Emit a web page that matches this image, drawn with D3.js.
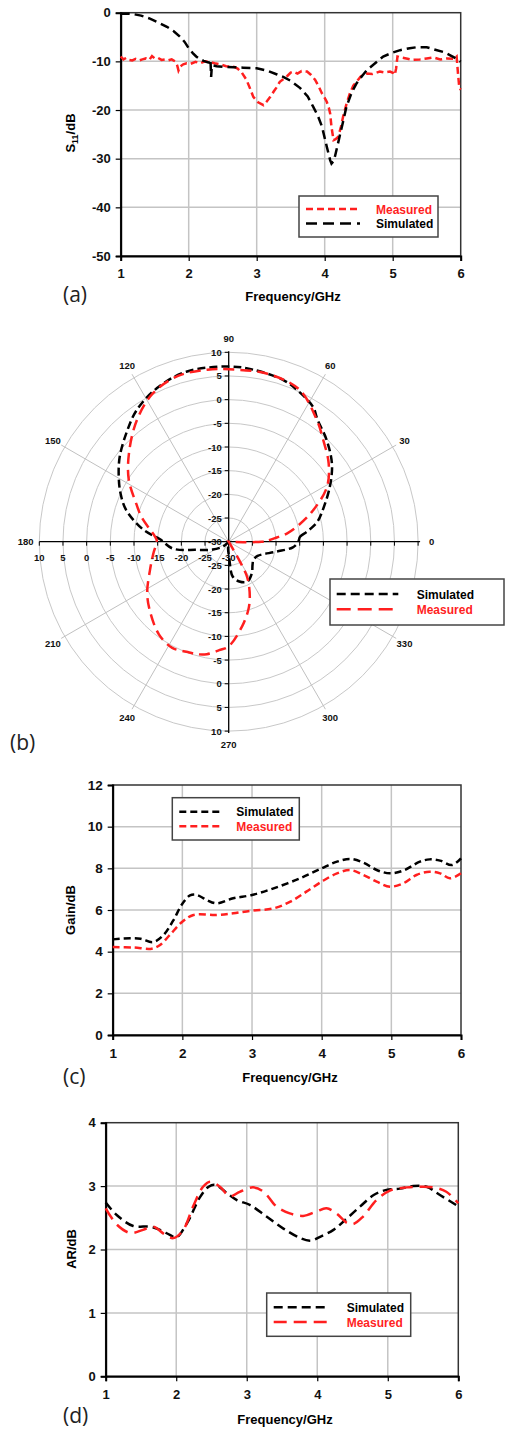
<!DOCTYPE html>
<html><head><meta charset="utf-8">
<script src="https://cdn.jsdelivr.net/npm/d3@7"></script>
<style>
body{margin:0;background:#fff;}
svg{display:block;font-family:"Liberation Sans",Arial,sans-serif;}
.tick text{font-weight:bold;fill:#111;}
</style></head>
<body>
<svg id="c" width="505" height="1431"></svg>
<script>
// ---------- (a) S11 ----------
const s11Ticks = [0, -10, -20, -30, -40, -50];
const freqTicks = [1, 2, 3, 4, 5, 6];
const s11FreqSim = [1, 1.1, 1.19, 1.3, 1.43, 1.55, 1.68, 1.78, 1.87, 1.94, 2.0, 2.06, 2.11, 2.17, 2.22, 2.28, 2.31, 2.32, 2.33, 2.34, 2.35, 2.41, 2.5, 2.66, 2.8, 3.0, 3.15, 3.3, 3.39, 3.5, 3.64, 3.75, 3.83, 3.9, 3.96, 4.03, 4.08, 4.1, 4.13, 4.15, 4.19, 4.23, 4.28, 4.32, 4.4, 4.47, 4.55, 4.62, 4.75, 4.86, 5.0, 5.11, 5.25, 5.35, 5.5, 5.6, 5.75, 5.84, 5.93, 6.0];
const s11Sim = [-0.2, -0.2, -0.3, -0.6, -1.2, -2.0, -2.9, -3.8, -4.9, -6.0, -7.3, -8.3, -9.0, -9.6, -9.9, -10.2, -10.3, -9.6, -13.2, -11.0, -10.8, -11.0, -11.1, -11.2, -11.3, -11.4, -11.9, -12.7, -13.2, -14.0, -15.5, -17.2, -19.3, -21.2, -23.4, -27.5, -30.3, -31.0, -30.5, -29.6, -27.2, -24.8, -21.8, -19.3, -16.3, -14.5, -13.0, -11.8, -10.3, -9.0, -8.2, -7.7, -7.3, -7.1, -7.1, -7.5, -8.1, -8.7, -9.4, -10.1];
const s11FreqMeas = [1, 1.04, 1.08, 1.12, 1.17, 1.22, 1.27, 1.32, 1.37, 1.42, 1.46, 1.5, 1.55, 1.6, 1.65, 1.7, 1.75, 1.8, 1.83, 1.85, 1.88, 1.92, 1.97, 2.03, 2.1, 2.17, 2.24, 2.31, 2.38, 2.46, 2.55, 2.66, 2.72, 2.78, 2.85, 2.9, 2.95, 3.02, 3.1, 3.15, 3.2, 3.25, 3.29, 3.34, 3.39, 3.45, 3.5, 3.54, 3.6, 3.66, 3.74, 3.8, 3.86, 3.92, 3.96, 4.0, 4.03, 4.06, 4.08, 4.1, 4.13, 4.16, 4.2, 4.24, 4.27, 4.32, 4.37, 4.42, 4.47, 4.53, 4.62, 4.7, 4.81, 4.88, 4.96, 5.01, 5.03, 5.05, 5.07, 5.12, 5.2, 5.3, 5.4, 5.5, 5.6, 5.7, 5.8, 5.9, 5.94, 5.96, 5.98, 6.0];
const s11Meas = [-9.0, -9.6, -9.3, -9.7, -9.8, -9.5, -9.8, -9.6, -9.4, -9.7, -8.9, -9.4, -9.3, -9.7, -9.6, -9.8, -9.6, -10.0, -10.8, -11.9, -11.0, -10.6, -10.4, -10.5, -10.1, -10.4, -10.0, -10.1, -10.4, -10.6, -11.0, -11.1, -11.5, -12.3, -13.8, -15.5, -17.3, -18.4, -19.0, -18.2, -17.3, -16.2, -15.4, -14.2, -13.7, -13.0, -12.3, -12.1, -12.5, -12.0, -12.1, -12.8, -13.8, -15.4, -16.6, -17.5, -18.3, -19.5, -20.7, -23.5, -26.2, -26.0, -25.5, -23.4, -21.4, -18.8, -16.6, -15.0, -14.2, -13.1, -12.5, -12.6, -12.1, -12.3, -12.1, -12.4, -12.8, -11.5, -9.0, -9.2, -9.4, -9.7, -9.6, -9.4, -9.2, -9.6, -9.4, -9.5, -9.0, -12.5, -15.5, -15.8];

// ---------- (b) polar pattern ----------
const polarRingTicks = [-25, -20, -15, -10, -5, 0, 5, 10];
const polarAxisLabels = [10, 5, 0, -5, -10, -15, -20, -25, -30];
const polarAngleTicks = [0, 30, 60, 90, 120, 150, 180, 210, 240, 270, 300, 330];
const polarAngleSim = [0, 4, 7, 10, 13, 17, 28.5, 37, 46, 54, 58, 65, 71, 82, 90, 104, 115, 125, 133, 142, 149, 156, 163, 172, 178, 187, 194, 206, 220, 235, 250, 265, 272, 276.5, 285, 295, 306, 316, 323.5, 333.7, 348, 355];
const polarSim = [-15.3, -14.9, -13.5, -12.0, -10.7, -9.5, -5.7, -2.7, -0.2, 1.9, 3.6, 5.0, 6.0, 6.7, 7.0, 7.0, 5.8, 3.9, 1.6, -0.8, -2.9, -5.0, -7.4, -11.8, -15.5, -18.1, -22.9, -26.2, -28.4, -29.8, -30, -28.5, -26.5, -22.6, -21.3, -20.7, -21.7, -23.0, -23.5, -23.2, -19.8, -16.4];
const polarAngleMeas = [0, 2, 5, 8, 13, 20, 29, 38, 47, 54, 65, 77, 90, 97, 107, 117, 127, 138, 148, 158, 164, 170, 176, 179, 183, 188, 200, 212, 221, 233, 242, 249, 254, 259, 265, 270, 279, 286, 290, 295, 298, 299.5, 301, 310, 330, 350, 356, 358];
const polarMeas = [-23, -21.5, -19.8, -17.6, -15, -11.2, -6.3, -3.2, -0.7, 1.7, 5.4, 6.4, 6.4, 6.6, 6.6, 5.2, 2.2, -1.7, -5.1, -9.0, -10.8, -12.8, -14.4, -14.8, -14.6, -14.0, -12.3, -9.7, -7.9, -5.5, -4.6, -5.1, -5.3, -5.8, -7.0, -7.9, -11.9, -15, -17, -19.9, -22, -25, -29.5, -30, -30, -30, -29.5, -27];

// ---------- (c) Gain ----------
const gainTicks = [0, 2, 4, 6, 8, 10, 12];
const gainFreqSim = [1, 1.25, 1.4, 1.58, 1.73, 1.87, 2.0, 2.11, 2.21, 2.35, 2.49, 2.73, 3.0, 3.31, 3.69, 4.0, 4.22, 4.41, 4.6, 4.79, 4.98, 5.17, 5.41, 5.55, 5.7, 5.87, 6.0];
const gainSim = [4.59, 4.64, 4.62, 4.46, 4.8, 5.5, 6.3, 6.7, 6.72, 6.48, 6.32, 6.56, 6.72, 7.04, 7.52, 8.0, 8.32, 8.45, 8.27, 7.92, 7.76, 7.89, 8.32, 8.43, 8.37, 8.16, 8.48];
const gainFreqMeas = [1, 1.3, 1.56, 1.68, 1.82, 2.0, 2.16, 2.49, 2.73, 3.0, 3.31, 3.55, 3.78, 4.0, 4.22, 4.41, 4.6, 4.79, 4.98, 5.17, 5.36, 5.55, 5.7, 5.84, 6.0];
const gainMeas = [4.22, 4.2, 4.14, 4.32, 4.8, 5.44, 5.76, 5.76, 5.84, 5.97, 6.08, 6.4, 6.88, 7.36, 7.76, 7.92, 7.68, 7.36, 7.12, 7.28, 7.68, 7.84, 7.76, 7.52, 7.76];

// ---------- (d) AR ----------
const arTicks = [0, 1, 2, 3, 4];
const arFreqSim = [1, 1.16, 1.39, 1.63, 1.77, 1.91, 2.0, 2.15, 2.34, 2.46, 2.55, 2.72, 2.86, 3.05, 3.28, 3.52, 3.76, 3.9, 4.04, 4.23, 4.42, 4.61, 4.8, 4.98, 5.17, 5.36, 5.55, 5.74, 6.0];
const arSim = [2.74, 2.54, 2.37, 2.36, 2.31, 2.23, 2.19, 2.41, 2.83, 2.99, 3.02, 2.89, 2.78, 2.70, 2.52, 2.33, 2.18, 2.14, 2.2, 2.31, 2.49, 2.68, 2.86, 2.94, 2.96, 3.0, 2.99, 2.86, 2.68];
const arFreqMeas = [1, 1.16, 1.35, 1.53, 1.68, 1.82, 1.96, 2.1, 2.24, 2.38, 2.48, 2.62, 2.76, 2.9, 3.09, 3.24, 3.42, 3.61, 3.8, 3.99, 4.13, 4.27, 4.42, 4.51, 4.65, 4.84, 5.03, 5.27, 5.46, 5.65, 5.83, 6.0];
const arMeas = [2.65, 2.39, 2.26, 2.31, 2.36, 2.25, 2.18, 2.31, 2.68, 2.99, 3.07, 2.99, 2.84, 2.91, 2.98, 2.91, 2.68, 2.57, 2.53, 2.6, 2.65, 2.57, 2.42, 2.4, 2.52, 2.78, 2.93, 2.98, 2.99, 2.98, 2.91, 2.73];

const RED = "#ff1f1f", BLACK = "#000";
const svg = d3.select("#c");
svg.append("rect").attr("width", 505).attr("height", 1431).attr("fill", "#fff");
const fmt = d => String(d);

function xyChart(o) {
  const g = svg.append("g");
  const x = d3.scaleLinear().domain([1, 6]).range([o.left, o.right]);
  const y = d3.scaleLinear().domain(o.yDomain).range([o.bottom, o.top]);
  g.selectAll(".gx").data(freqTicks.slice(1, -1)).join("line")
    .attr("x1", d => x(d)).attr("x2", d => x(d)).attr("y1", o.top).attr("y2", o.bottom)
    .attr("stroke", "#c4c4c4").attr("stroke-width", 1.5);
  g.selectAll(".gy").data(o.yTicks.filter(t => t !== o.yDomain[0] && t !== o.yDomain[1])).join("line")
    .attr("y1", d => y(d)).attr("y2", d => y(d)).attr("x1", o.left).attr("x2", o.right)
    .attr("stroke", "#c4c4c4").attr("stroke-width", 1.5);
  g.append("rect").attr("x", o.left).attr("y", o.top).attr("width", o.right - o.left).attr("height", o.bottom - o.top)
    .attr("fill", "none").attr("stroke", "#333").attr("stroke-width", 1.5);
  const ax = g.append("g").attr("transform", `translate(0,${o.bottom})`)
    .call(d3.axisBottom(x).tickValues(freqTicks).tickSize(5).tickPadding(8).tickFormat(fmt));
  const ay = g.append("g").attr("transform", `translate(${o.left},0)`)
    .call(d3.axisLeft(y).tickValues(o.yTicks).tickSize(5).tickPadding(5).tickFormat(fmt));
  [ax, ay].forEach(a => {
    a.select(".domain").attr("stroke", "#000").attr("stroke-width", 2);
    a.selectAll(".tick line").attr("stroke", "#000").attr("stroke-width", 1.2);
    a.selectAll(".tick text").attr("font-size", o.fs).attr("font-family", "Liberation Sans, Arial, sans-serif");
  });
  o.series.forEach(s => {
    const pts = s.fx.map((f, i) => [f, s.v[i]]);
    g.append("path").datum(pts)
      .attr("d", d3.line().x(d => x(d[0])).y(d => y(d[1])).curve(s.curve || d3.curveCatmullRom.alpha(0.5)))
      .attr("fill", "none").attr("stroke", s.color).attr("stroke-width", 2.5)
      .attr("stroke-dasharray", s.dash);
  });
  svg.append("text").attr("x", o.xtX).attr("y", o.xtY).attr("text-anchor", "middle")
    .attr("font-size", 13).attr("font-weight", "bold").text("Frequency/GHz");
  const yt = svg.append("text").attr("transform", `translate(${o.ytX},${o.ytY}) rotate(-90)`)
    .attr("text-anchor", "middle").attr("font-size", 13).attr("font-weight", "bold");
  o.yTitle(yt);
  svg.append("text").attr("x", 63).attr("y", o.lblY).attr("font-family", "Open Sans, sans-serif")
    .attr("font-size", 21).attr("fill", "#222").text(o.label);
  const L = o.legend;
  svg.append("rect").attr("x", L.x).attr("y", L.y).attr("width", L.w).attr("height", L.h)
    .attr("fill", "#fff").attr("stroke", "#444").attr("stroke-width", 1.5);
  L.items.forEach((it, i) => {
    const yy = L.y + L.r0 + i * L.dy;
    svg.append("line").attr("x1", L.x + L.l0).attr("x2", L.x + L.l1).attr("y1", yy).attr("y2", yy)
      .attr("stroke", it.color).attr("stroke-width", 2.5).attr("stroke-dasharray", it.dash);
    svg.append("text").attr("x", L.x + L.tx).attr("y", yy + 4.5).attr("font-size", 12).attr("font-weight", "bold")
      .attr("fill", it.color).text(it.name);
  });
}

// (a)
xyChart({
  left: 120.7, right: 460.7, top: 12.7, bottom: 256, yDomain: [-50, 0], yTicks: s11Ticks, fs: 13,
  series: [
    { fx: s11FreqMeas, v: s11Meas, color: RED, dash: "7,4", curve: d3.curveLinear },
    { fx: s11FreqSim, v: s11Sim, color: BLACK, dash: "9,5", curve: d3.curveLinear }
  ],
  xtX: 293, xtY: 301, ytX: 75, ytY: 133, lblY: 302, label: "(a)",
  yTitle: t => { t.append("tspan").text("S"); t.append("tspan").attr("font-size", 9).attr("dy", 3).text("11"); t.append("tspan").attr("dy", -3).text("/dB"); },
  legend: { x: 299, y: 196, w: 139, h: 41, r0: 13, dy: 14.5, l0: 7, l1: 61, tx: 77,
    items: [{ name: "Measured", color: RED, dash: "7,4" }, { name: "Simulated", color: BLACK, dash: "11,6" }] }
});

// (c)
xyChart({
  left: 112.7, right: 461, top: 785, bottom: 1035, yDomain: [0, 12], yTicks: gainTicks, fs: 13.5,
  series: [
    { fx: gainFreqSim, v: gainSim, color: BLACK, dash: "7,4" },
    { fx: gainFreqMeas, v: gainMeas, color: RED, dash: "7,4" }
  ],
  xtX: 290, xtY: 1082, ytX: 75, ytY: 910, lblY: 1084, label: "(c)",
  yTitle: t => t.text("Gain/dB"),
  legend: { x: 172.3, y: 797.7, w: 127, h: 42.3, r0: 14, dy: 14.6, l0: 7, l1: 48, tx: 64,
    items: [{ name: "Simulated", color: BLACK, dash: "7,4" }, { name: "Measured", color: RED, dash: "7,4" }] }
});

// (d)
xyChart({
  left: 105.7, right: 458.3, top: 1122.7, bottom: 1376.3, yDomain: [0, 4], yTicks: arTicks, fs: 13,
  series: [
    { fx: arFreqSim, v: arSim, color: BLACK, dash: "9,5" },
    { fx: arFreqMeas, v: arMeas, color: RED, dash: "13,7" }
  ],
  xtX: 285, xtY: 1424, ytX: 76, ytY: 1249, lblY: 1423, label: "(d)",
  yTitle: t => t.text("AR/dB"),
  legend: { x: 266.7, y: 1293, w: 144, h: 43.3, r0: 14.3, dy: 14.7, l0: 7, l1: 63, tx: 80,
    items: [{ name: "Simulated", color: BLACK, dash: "9,5" }, { name: "Measured", color: RED, dash: "13,7" }] }
});

// (b) polar
(function () {
  const cx = 228.7, cy = 541.7, R = 189.4;
  const g = svg.append("g").attr("transform", `translate(${cx},${cy})`);
  const r = d3.scaleLinear().domain([-30, 10]).range([0, R]).clamp(true);
  g.selectAll(".ring").data(polarRingTicks).join("circle").attr("r", d => r(d))
    .attr("fill", "none").attr("stroke", "#c8c8c8").attr("stroke-width", 1);
  const rad = a => a * Math.PI / 180;
  g.selectAll(".spoke").data(polarAngleTicks.filter(a => a % 90 !== 0)).join("line")
    .attr("x1", 0).attr("y1", 0)
    .attr("x2", a => (R + 4) * Math.cos(rad(a))).attr("y2", a => -(R + 4) * Math.sin(rad(a)))
    .attr("stroke", "#c0c0c0").attr("stroke-width", 1);
  g.append("line").attr("x1", -R).attr("x2", R + 2).attr("y1", 0).attr("y2", 0).attr("stroke", "#000").attr("stroke-width", 1.3);
  g.append("line").attr("x1", 0).attr("x2", 0).attr("y1", -R - 1).attr("y2", R + 2).attr("stroke", "#000").attr("stroke-width", 1.3);
  [-1, 1].forEach(sg => {
    g.selectAll(null).data(polarRingTicks).join("line").attr("x1", d => sg * r(d)).attr("x2", d => sg * r(d))
      .attr("y1", 0).attr("y2", 4).attr("stroke", "#000").attr("stroke-width", 1);
    g.selectAll(null).data(polarRingTicks).join("line").attr("y1", d => sg * r(d)).attr("y2", d => sg * r(d))
      .attr("x1", -4).attr("x2", 0).attr("stroke", "#000").attr("stroke-width", 1);
  });
  const lf = { "font-size": 9.5, "font-weight": "bold", "fill": "#111" };
  function T(sel) { Object.entries(lf).forEach(([k, v]) => sel.attr(k, v)); return sel; }
  polarAxisLabels.forEach(v => {
    T(g.append("text")).attr("x", -7).attr("y", -r(v) + 3.5).attr("text-anchor", "end").text(v);
    if (v !== -30) T(g.append("text")).attr("x", -7).attr("y", r(v) + 3.5).attr("text-anchor", "end").text(v);
  });
  polarAxisLabels.forEach(v => {
    T(g.append("text")).attr("x", -r(v)).attr("y", 19).attr("text-anchor", "middle").text(v);
  });
  polarAngleTicks.forEach(a => {
    const rr = 203;
    T(g.append("text")).attr("x", rr * Math.cos(rad(a))).attr("y", -rr * Math.sin(rad(a)) + 3.5)
      .attr("text-anchor", "middle").text(a);
  });
  const line = d3.lineRadial().angle(d => rad(90 - d[0])).radius(d => r(d[1])).curve(d3.curveCatmullRomClosed.alpha(0.5));
  g.append("path").datum(polarAngleSim.map((a, i) => [a, polarSim[i]])).attr("d", line)
    .attr("fill", "none").attr("stroke", BLACK).attr("stroke-width", 2.5).attr("stroke-dasharray", "8,4");
  g.append("path").datum(polarAngleMeas.map((a, i) => [a, polarMeas[i]])).attr("d", line)
    .attr("fill", "none").attr("stroke", RED).attr("stroke-width", 2.5).attr("stroke-dasharray", "11,6");
  const L = { x: 330, y: 579, w: 174, h: 46 };
  svg.append("rect").attr("x", L.x).attr("y", L.y).attr("width", L.w).attr("height", L.h)
    .attr("fill", "#fff").attr("stroke", "#444").attr("stroke-width", 1.5);
  [{ name: "Simulated", color: BLACK, dash: "9,5" }, { name: "Measured", color: RED, dash: "14,7" }].forEach((it, i) => {
    const yy = 594 + i * 15.3;
    svg.append("line").attr("x1", 336.7).attr("x2", 398.3).attr("y1", yy).attr("y2", yy)
      .attr("stroke", it.color).attr("stroke-width", 2.5).attr("stroke-dasharray", it.dash);
    svg.append("text").attr("x", 416.7).attr("y", yy + 4.5).attr("font-size", 12).attr("font-weight", "bold")
      .attr("fill", it.color).text(it.name);
  });
  svg.append("text").attr("x", 10).attr("y", 750).attr("font-family", "Open Sans, sans-serif")
    .attr("font-size", 21).attr("fill", "#222").text("(b)");
})();
</script>
</body></html>
